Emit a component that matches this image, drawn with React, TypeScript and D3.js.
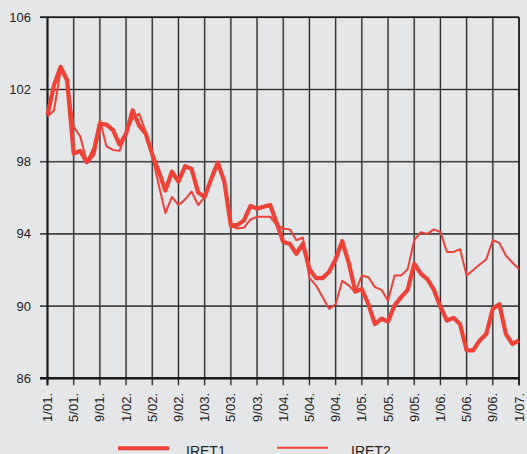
import React from "react";
import * as d3 from "d3";

const yTicks = [86, 90, 94, 98, 102, 106];
const xTickLabels = [
  "1/01.", "5/01.", "9/01.", "1/02.", "5/02.", "9/02.", "1/03.", "5/03.", "9/03.",
  "1/04.", "5/04.", "9/04.", "1/05.", "5/05.", "9/05.", "1/06.", "5/06.", "9/06.", "1/07.",
];
const seriesNames = ["IRET1", "IRET2"];

const iret1 = [
  100.6, 102.25, 103.25, 102.5, 98.45, 98.6, 97.97, 98.4, 100.1, 100.05, 99.75, 98.95, 99.55, 100.85, 100.0, 99.55, 98.4,
  97.45, 96.4, 97.45, 96.9, 97.75, 97.6, 96.3, 96.05, 97.05, 97.95, 96.9, 94.45, 94.5, 94.75, 95.55, 95.4,
  95.5, 95.6, 94.6, 93.55, 93.45, 92.9, 93.45, 92.05, 91.55, 91.55, 91.9, 92.6, 93.6, 92.4, 90.8,
  90.95, 90.1, 89.0, 89.3, 89.15, 90.05, 90.5, 90.9, 92.35, 91.8, 91.5, 90.9, 89.95, 89.2, 89.35, 89.0, 87.55, 87.55,
  88.1, 88.45, 89.85, 90.1, 88.45, 87.9, 88.1,
];
const iret2 = [
  100.5, 100.85, 103.05, 102.6, 99.95, 99.4, 98.0, 98.75, 100.3, 98.85, 98.65, 98.6, 99.55, 100.4, 100.65, 99.65, 98.3,
  96.7, 95.15, 96.05, 95.6, 95.9, 96.35, 95.6, 96.05, 97.05, 97.95, 96.9, 94.45, 94.3, 94.35, 94.8, 94.95,
  94.95, 94.95, 94.5, 94.3, 94.25, 93.65, 93.8, 91.55, 91.15, 90.5, 89.85, 90.1, 91.4, 91.15, 90.75,
  91.7, 91.6, 91.05, 90.9, 90.3, 91.7, 91.7, 92.05, 93.65, 94.1, 94.0, 94.25, 94.1, 93.0, 93.0, 93.15, 91.7, 92.0,
  92.3, 92.6, 93.65, 93.5, 92.8, 92.4, 92.05,
];

const W = 527;
const H = 454;
const L = 47.5;
const R = 519;
const T = 17.3;
const B = 378.3;
const RED = "#ef4136";
const GRID = "#2a2a2a";
const FONT = "'Liberation Sans', Arial, sans-serif";

export default function App() {
  const x = d3.scaleLinear().domain([0, 72]).range([L, R]);
  const y = d3.scaleLinear().domain([86, 106]).range([B, T]);
  const line = d3
    .line<number>()
    .x((_, i) => x(i))
    .y((d) => y(d));

  const xTickIdx = xTickLabels.map((_, k) => k * 4);

  return (
    <svg
      width={W}
      height={H}
      style={{ position: "absolute", left: 0, top: 0 }}
      fontFamily={FONT}
    >
      <rect x={0} y={0} width={W} height={H} fill="#e5e6e8" />
      {/* horizontal grid */}
      {yTicks.map((t) => (
        <g key={"h" + t}>
          <line x1={40} x2={R} y1={y(t)} y2={y(t)} stroke="#777" strokeWidth={2} opacity={0.6} />
          <line x1={40} x2={R} y1={y(t)} y2={y(t)} stroke={GRID} strokeWidth={1.1} />
          <text x={31} y={y(t) + 4.5} fontSize={13} textAnchor="end" fill="#222">
            {t}
          </text>
        </g>
      ))}
      {/* vertical grid */}
      {xTickIdx.map((i, k) => (
        <g key={"v" + i}>
          <line x1={x(i)} x2={x(i)} y1={T} y2={B + 7} stroke="#777" strokeWidth={2} opacity={0.5} />
          <line x1={x(i)} x2={x(i)} y1={T} y2={B + 7} stroke={GRID} strokeWidth={1.1} />
          <text
            transform={`translate(${x(i) + 4.5},${393}) rotate(-90)`}
            fontSize={13}
            textAnchor="end"
            fill="#222"
          >
            {xTickLabels[k]}
          </text>
        </g>
      ))}
      {/* axes */}
      <line x1={L} x2={L} y1={T} y2={B + 7} stroke="#1a1a1a" strokeWidth={2} />
      <line x1={R} x2={R} y1={T} y2={B + 7} stroke="#1a1a1a" strokeWidth={1.5} />
      <line x1={40} x2={R} y1={T} y2={T} stroke="#1a1a1a" strokeWidth={1.5} />
      <line x1={40} x2={R + 1} y1={B} y2={B} stroke="#1a1a1a" strokeWidth={2.6} />

      {/* series */}
      <path d={line(iret2) || ""} fill="none" stroke={RED} strokeWidth={2} strokeLinejoin="round" />
      <path d={line(iret1) || ""} fill="none" stroke={RED} strokeWidth={4.2} strokeLinejoin="round" />

      {/* legend */}
      <line x1={118} x2={169} y1={448.3} y2={448.3} stroke={RED} strokeWidth={4} />
      <text x={186} y={455.5} fontSize={14} fill="#222">
        {seriesNames[0]}
      </text>
      <line x1={277} x2={328} y1={447.7} y2={447.7} stroke={RED} strokeWidth={2} />
      <text x={351} y={455.5} fontSize={14} fill="#222">
        {seriesNames[1]}
      </text>
    </svg>
  );
}
